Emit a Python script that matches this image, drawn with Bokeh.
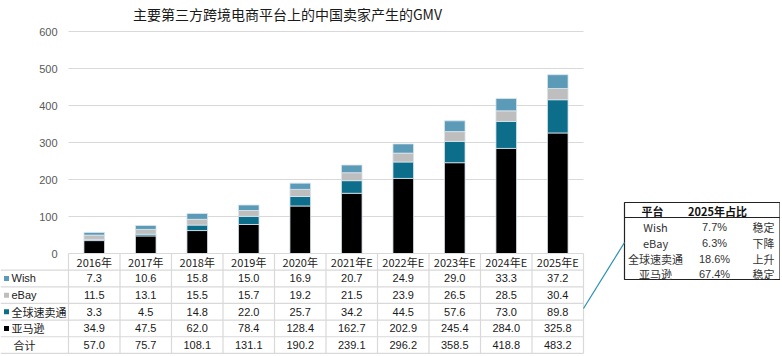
from bokeh.plotting import figure
from bokeh.models import Range1d, ColumnDataSource
from bokeh.core.properties import value
from bokeh.embed import file_html
from bokeh.resources import INLINE

# ---------------- data ----------------
years = ["2016年", "2017年", "2018年", "2019年", "2020年",
         "2021年E", "2022年E", "2023年E", "2024年E", "2025年E"]
wish = [7.3, 10.6, 15.8, 15.0, 16.9, 20.7, 24.9, 29.0, 33.3, 37.2]
ebay = [11.5, 13.1, 15.5, 15.7, 19.2, 21.5, 23.9, 26.5, 28.5, 30.4]
aliexpress = [3.3, 4.5, 14.8, 22.0, 25.7, 34.2, 44.5, 57.6, 73.0, 89.8]
amazon = [34.9, 47.5, 62.0, 78.4, 128.4, 162.7, 202.9, 245.4, 284.0, 325.8]
total = [57.0, 75.7, 108.1, 131.1, 190.2, 239.1, 296.2, 358.5, 418.8, 483.2]
series_names = ["Wish", "eBay", "全球速卖通", "亚马逊"]
y_ticks = [0, 100, 200, 300, 400, 500, 600]

inset_platforms = ["Wish", "eBay", "全球速卖通", "亚马逊"]
inset_share = ["7.7%", "6.3%", "18.6%", "67.4%"]
inset_trend = ["稳定", "下降", "上升", "稳定"]

title_text = "主要第三方跨境电商平台上的中国卖家产生的GMV"

# ---------------- styles ----------------
colors = {"Wish": "#5B9BB7", "eBay": "#BEBEBE", "全球速卖通": "#0D6E8C", "亚马逊": "#000000"}
LAT = value("Liberation Sans")
CJK = value("Noto Sans CJK SC")

# layout mapping (picture pixel -> data coordinates)
COL0, COLW = 68.0, 51.5
ZERO_Y, PX_PER_UNIT = 253.0, 0.37
OFF = 0


def px2x(px):
    return (px - COL0) / COLW - 0.5


def px2y(py):
    return (ZERO_Y - py) / PX_PER_UNIT


W, H = 780, 355
p = figure(width=W, height=H, output_backend="svg", toolbar_location=None,
           x_range=Range1d(px2x(OFF), px2x(OFF + W)), y_range=Range1d(px2y(OFF + H), px2y(OFF)),
           min_border=0, min_border_left=0, min_border_right=0,
           min_border_top=0, min_border_bottom=0)
p.xaxis.visible = False
p.yaxis.visible = False
p.xgrid.visible = False
p.ygrid.visible = False
p.outline_line_color = None
p.background_fill_color = "white"

n = len(years)
xs = list(range(n))
left_edge, right_edge = -0.5, n - 0.5

# gridlines
gy = [t for t in y_ticks if t > 0]
p.segment(x0=[left_edge] * len(gy), x1=[right_edge] * len(gy), y0=gy, y1=gy,
          line_color="#D9D9D9", line_width=1)

# y tick labels
p.text(x=[px2x(57)] * len(y_ticks), y=y_ticks, text=[str(t) for t in y_ticks],
       text_align="right", text_baseline="middle", text_font=LAT,
       text_font_size="11px", text_color="#595959")

# stacked bars
src = ColumnDataSource(dict(x=xs, Wish=wish, eBay=ebay, 全球速卖通=aliexpress, 亚马逊=amazon))
stack_order = ["亚马逊", "全球速卖通", "eBay", "Wish"]
p.vbar_stack(stack_order, x="x", width=0.4, source=src,
             color=[colors[s] for s in stack_order],
             line_color="#DCE6EE", line_width=0.8)

# ---------------- table ----------------
ROWH = 45.0
nrows = 6
row_bounds = [-ROWH * i for i in range(nrows + 1)]
row_centers = [-(i + 0.5) * ROWH for i in range(nrows)]
grid_col = "#D9D9D9"
# horizontal lines
hx0 = [left_edge] + [px2x(0)] * nrows
p.segment(x0=hx0, x1=[right_edge] * (nrows + 1), y0=row_bounds, y1=row_bounds,
          line_color=grid_col, line_width=1.2)
# vertical lines
vx = [left_edge + i for i in range(n + 1)]
p.segment(x0=vx, x1=vx, y0=[0] * len(vx), y1=[row_bounds[-1]] * len(vx),
          line_color=grid_col, line_width=1.2)

# header years
p.text(x=xs, y=[row_centers[0]] * n, text=years, text_align="center",
       text_baseline="middle", text_font=CJK, text_font_size="11px", text_color="#1A1A1A")

rows = [wish, ebay, aliexpress, amazon, total]
for r, vals in enumerate(rows):
    p.text(x=xs, y=[row_centers[r + 1]] * n, text=[f"{v:.1f}" for v in vals],
           text_align="center", text_baseline="middle", text_font=LAT,
           text_font_size="11px", text_color="#1A1A1A")

# row labels with legend squares
label_rows = series_names + ["合计"]
p.scatter(x=[px2x(6)] * 4, y=row_centers[1:5], marker="square", size=5,
          fill_color=[colors[s] for s in series_names], line_color=None)
p.text(x=[px2x(11)] * 2, y=row_centers[1:3], text=series_names[:2],
       text_align="left", text_baseline="middle", text_font=LAT,
       text_font_size="11px", text_color="#1A1A1A")
p.text(x=[px2x(11)] * 2, y=row_centers[3:5], text=label_rows[2:4],
       text_align="left", text_baseline="middle", text_font=CJK,
       text_font_size="11px", text_color="#1A1A1A")
p.text(x=[px2x(13)], y=[row_centers[5]], text=[label_rows[4]],
       text_align="left", text_baseline="middle", text_font=CJK,
       text_font_size="11px", text_color="#1A1A1A")

# ---------------- title ----------------
p.text(x=[px2x(287)], y=[px2y(13)], text=[title_text], text_align="center",
       text_baseline="middle", text_font=CJK, text_font_size="14px",
       text_color="#1A1A1A")

# ---------------- inset box ----------------
bx0, bx1 = px2x(624), px2x(779.5)
by0, by1 = px2y(279), px2y(202)
p.quad(left=[bx0], right=[bx1], bottom=[by0], top=[by1], fill_color="white",
       line_color="#222222", line_width=1.2)
hy = px2y(217)
p.segment(x0=[bx0], x1=[bx1], y0=[hy], y1=[hy], line_color="#222222", line_width=1)
hdr_y = px2y(210)
p.text(x=[px2x(652), px2x(717)], y=[hdr_y, hdr_y], text=["平台", "2025年占比"],
       text_align="center", text_baseline="middle", text_font=CJK,
       text_font_size="11px", text_font_style="bold", text_color="#111111")
iy = [px2y(v) for v in (226, 242, 258, 273)]
p.text(x=[px2x(655)] * 4, y=iy, text=inset_platforms, text_align="center",
       text_baseline="middle", text_font=CJK, text_font_size="11px", text_color="#333333")
p.text(x=[px2x(714)] * 4, y=iy, text=inset_share, text_align="center",
       text_baseline="middle", text_font=LAT, text_font_size="11px", text_color="#333333")
p.text(x=[px2x(763)] * 4, y=iy, text=inset_trend, text_align="center",
       text_baseline="middle", text_font=CJK, text_font_size="11px", text_color="#333333")

# connector line from table row to inset
p.segment(x0=[right_edge], y0=[px2y(308)], x1=[bx0], y1=[px2y(242)],
          line_color="#2A8FB0", line_width=1.2)

open("out.html", "w").write(file_html(p, INLINE))
